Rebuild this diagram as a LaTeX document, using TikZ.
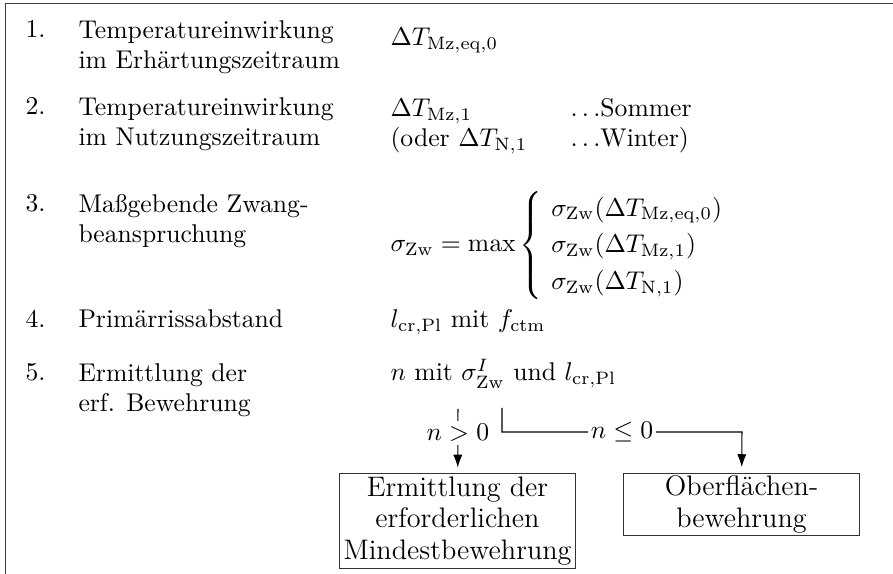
\documentclass[tikz,border=0pt]{standalone}
\usepackage{amsmath}
\usepackage{amssymb}
\usetikzlibrary{arrows.meta}

\begin{document}
\begin{tikzpicture}[
    x=0.39pt, y=-0.39pt,
    stepno/.style={anchor=base west, inner sep=0pt},
    steptxt/.style={anchor=base west, align=left, inner sep=0pt},
    resbox/.style={draw=black!80, line width=0.4pt, align=center, inner sep=1pt, minimum width=92.4pt, font=\fontsize{11}{12.2}\selectfont},
    cond/.style={fill=white, inner sep=1.2pt},
    flow/.style={draw=black, line width=0.4pt}
  ]
  \useasboundingbox (0,0) rectangle (893,574);

  % frame (cut off at the right and below)
  \draw[black!75, line width=0.5pt] (5.5,574) -- (5.5,3.5) -- (893,3.5);

  % 1.  (two-line nodes sit on the baseline of their last line)
  \node[stepno] (num1) at (25,38) {1.};
  \node[steptxt] (lab1) at (78,69) {Temperatureinwirkung\\im Erhärtungszeitraum};
  \node[steptxt] (val1) at (390,46) {$\Delta T_{\mathrm{Mz,eq},0}$};

  % 2.
  \node[stepno] (num2) at (25,115) {2.};
  \node[steptxt] (lab2) at (78,146) {Temperatureinwirkung\\im Nutzungszeitraum};
  \node[steptxt] (val2) at (390,147) {$\Delta T_{\mathrm{Mz},1}$\\(oder $\Delta T_{\mathrm{N},1}$};
  \node[steptxt] (season) at (570,147) {$\ldots$Sommer\\$\ldots$Winter)};

  % 3.
  \node[stepno] (num3) at (25,212) {3.};
  \node[steptxt] (lab3) at (78,243) {Maßgebende Zwang-\\beanspruchung};
  \node[steptxt] (val3) at (390,252) {$\displaystyle \sigma_{\mathrm{Zw}} = \max\left\{\ \renewcommand{\arraystretch}{1.2}\begin{array}{@{}l@{}}
      \sigma_{\mathrm{Zw}}(\Delta T_{\mathrm{Mz,eq},0})\\
      \sigma_{\mathrm{Zw}}(\Delta T_{\mathrm{Mz},1})\\
      \sigma_{\mathrm{Zw}}(\Delta T_{\mathrm{N},1})
    \end{array}\right.$};

  % 4.
  \node[stepno] (num4) at (25,328) {4.};
  \node[steptxt] (lab4) at (78,328) {Primärrissabstand};
  \node[steptxt] (val4) at (390,328) {$l_{\mathrm{cr,Pl}}$ mit $f_{\mathrm{ctm}}$};

  % 5.
  \node[stepno] (num5) at (25,381) {5.};
  \node[steptxt] (lab5) at (78,412) {Ermittlung der\\erf. Bewehrung};
  \node[steptxt] (val5) at (390,381) {$n$ mit $\sigma^{I}_{\mathrm{Zw}}$ und $l_{\mathrm{cr,Pl}}$};

  % result boxes
  \node[resbox, minimum height=36.7pt] (mindest) at (457.5,521) {Ermittlung der\\erforderlichen\\Mindestbewehrung};
  \node[resbox, minimum height=23.8pt] (oberfl) at (741.5,504.5) {Oberflächen-\\bewehrung};

  % branches
  \coordinate (splitL) at (458,409);
  \coordinate (splitR) at (502,408);
  \coordinate (turnR) at (742,432);
  \draw[flow, -{Latex[length=5pt,width=3.6pt]}, shorten >=2.3pt] (splitL) -- node[cond, pos=0.37] {$n > 0$} (mindest);
  \draw[flow, -{Latex[length=5pt,width=3.6pt]}, shorten >=2.3pt] (splitR) |- node[cond, pos=0.75] {$n \leq 0$} (turnR) -- (oberfl);
\end{tikzpicture}
\end{document}
